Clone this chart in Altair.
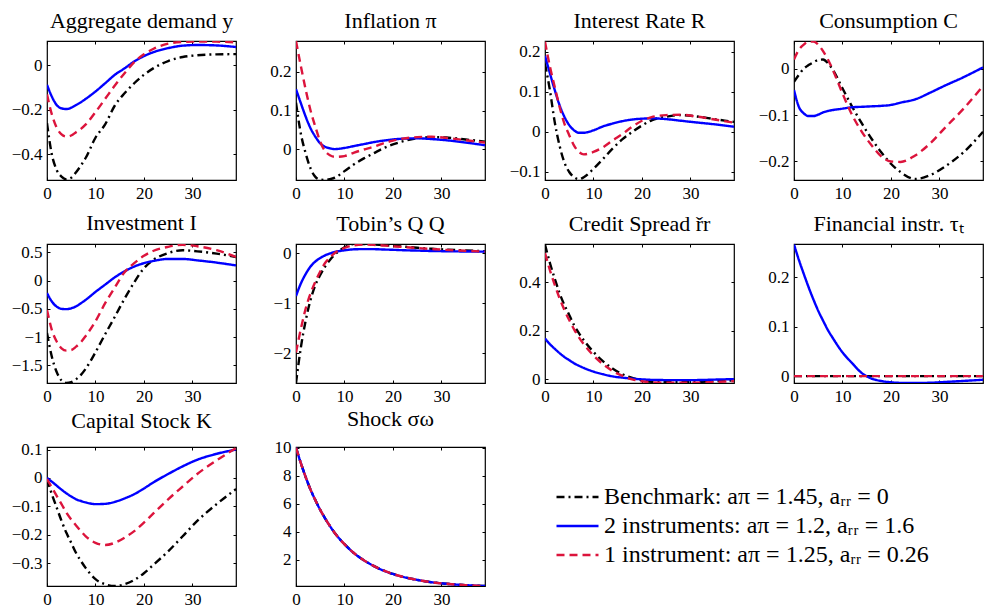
import altair as alt
import pandas as pd

# ---------------- data ----------------
T = [0, 1, 2, 3, 4, 5, 6, 7, 8, 10, 12, 14, 16, 18, 20, 22, 25, 28, 31, 35, 39]

SERIES = [
    "Benchmark: aπ = 1.45, aᵣᵣ = 0",
    "2 instruments: aπ = 1.2, aᵣᵣ = 1.6",
    "1 instrument: aπ = 1.25, aᵣᵣ = 0.26",
]
COLORS = ["#000000", "#0000FF", "#DC143C"]
DASHES = [[8, 4, 2, 4], [1, 0], [8, 5]]

# Aggregate demand y
y_bench = [-0.26, -0.40, -0.47, -0.50, -0.512, -0.505, -0.48, -0.45, -0.415, -0.325, -0.265, -0.18, -0.125, -0.08, -0.042, -0.012, 0.02, 0.038, 0.046, 0.05, 0.051]
y_two = [-0.087, -0.14, -0.178, -0.193, -0.196, -0.19, -0.178, -0.165, -0.15, -0.117, -0.08, -0.042, -0.013, 0.018, 0.042, 0.06, 0.078, 0.089, 0.092, 0.09, 0.083]
y_one = [-0.13, -0.22, -0.28, -0.31, -0.32, -0.315, -0.30, -0.285, -0.265, -0.21, -0.15, -0.09, -0.035, 0.015, 0.05, 0.075, 0.098, 0.106, 0.108, 0.107, 0.104]

# Inflation pi
pi_bench = [0.12, 0.04, -0.011, -0.05, -0.072, -0.079, -0.08, -0.078, -0.074, -0.057, -0.039, -0.024, -0.011, 0.002, 0.012, 0.02, 0.028, 0.031, 0.03, 0.025, 0.019]
pi_two = [0.155, 0.119, 0.084, 0.054, 0.032, 0.015, 0.006, 0.002, 0.0, 0.003, 0.008, 0.013, 0.018, 0.022, 0.025, 0.027, 0.028, 0.026, 0.023, 0.017, 0.01]
pi_one = [0.28, 0.215, 0.154, 0.10, 0.058, 0.019, -0.005, -0.016, -0.02, -0.018, -0.009, -0.001, 0.006, 0.015, 0.022, 0.027, 0.031, 0.032, 0.029, 0.023, 0.017]

# Interest rate R
r_bench = [0.17, 0.105, 0.025, -0.034, -0.076, -0.1, -0.113, -0.118, -0.113, -0.092, -0.067, -0.041, -0.018, 0.0, 0.016, 0.029, 0.038, 0.042, 0.039, 0.032, 0.025]
r_two = [0.19, 0.147, 0.105, 0.067, 0.038, 0.017, 0.004, -0.002, -0.002, 0.004, 0.014, 0.021, 0.027, 0.031, 0.033, 0.034, 0.032, 0.028, 0.024, 0.019, 0.013]
r_one = [0.225, 0.164, 0.113, 0.063, 0.021, -0.008, -0.034, -0.05, -0.056, -0.05, -0.038, -0.021, -0.005, 0.013, 0.028, 0.037, 0.042, 0.043, 0.039, 0.031, 0.023]

# Consumption C
c_bench = [-0.028, -0.013, 0.0, 0.008, 0.014, 0.019, 0.02, 0.012, -0.002, -0.042, -0.082, -0.118, -0.151, -0.18, -0.205, -0.223, -0.238, -0.23, -0.212, -0.18, -0.136]
c_two = [-0.046, -0.082, -0.096, -0.102, -0.102, -0.099, -0.094, -0.091, -0.089, -0.086, -0.083, -0.082, -0.081, -0.08, -0.078, -0.073, -0.066, -0.052, -0.037, -0.018, 0.003]
c_one = [0.02, 0.041, 0.052, 0.059, 0.059, 0.052, 0.038, 0.02, -0.002, -0.053, -0.1, -0.136, -0.165, -0.189, -0.2, -0.201, -0.187, -0.162, -0.129, -0.086, -0.037]

# Investment I
i_bench = [-0.93, -1.35, -1.62, -1.77, -1.815, -1.8, -1.75, -1.67, -1.56, -1.27, -0.95, -0.64, -0.32, -0.03, 0.22, 0.37, 0.49, 0.54, 0.52, 0.48, 0.42]
i_two = [-0.22, -0.37, -0.46, -0.5, -0.505, -0.49, -0.455, -0.40, -0.34, -0.2, -0.07, 0.06, 0.165, 0.25, 0.31, 0.35, 0.385, 0.385, 0.36, 0.32, 0.27]
i_one = [-0.52, -0.875, -1.08, -1.2, -1.24, -1.23, -1.17, -1.09, -0.98, -0.72, -0.4, -0.12, 0.15, 0.31, 0.44, 0.53, 0.6, 0.635, 0.61, 0.54, 0.42]

# Tobin's Q
q_bench = [-2.6, -1.89, -1.35, -0.94, -0.64, -0.44, -0.27, -0.14, -0.034, 0.114, 0.178, 0.18, 0.172, 0.16, 0.145, 0.13, 0.105, 0.085, 0.068, 0.05, 0.034]
q_two = [-0.86, -0.61, -0.42, -0.27, -0.17, -0.1, -0.047, -0.01, 0.02, 0.054, 0.074, 0.078, 0.077, 0.07, 0.064, 0.056, 0.048, 0.04, 0.035, 0.03, 0.027]
q_one = [-1.99, -1.52, -1.11, -0.81, -0.57, -0.37, -0.2, -0.09, 0.0, 0.1, 0.155, 0.168, 0.162, 0.15, 0.135, 0.12, 0.1, 0.08, 0.062, 0.045, 0.027]

# Credit spread
s_bench = [0.555, 0.48, 0.415, 0.355, 0.306, 0.265, 0.223, 0.19, 0.161, 0.113, 0.074, 0.044, 0.021, 0.006, -0.004, -0.01, -0.012, -0.012, -0.011, -0.008, -0.004]
s_two = [0.168, 0.145, 0.126, 0.108, 0.092, 0.079, 0.066, 0.056, 0.047, 0.032, 0.021, 0.012, 0.007, 0.003, 0.0, -0.002, -0.003, -0.003, -0.003, -0.001, 0.001]
s_one = [0.52, 0.45, 0.39, 0.334, 0.286, 0.244, 0.206, 0.173, 0.145, 0.098, 0.062, 0.034, 0.014, 0.0, -0.008, -0.012, -0.014, -0.014, -0.014, -0.011, -0.007]

# Financial instrument tau
tau_bench = [0.0] * 21
tau_two = [0.266, 0.235, 0.207, 0.18, 0.155, 0.132, 0.112, 0.093, 0.077, 0.048, 0.026, 0.006, -0.005, -0.01, -0.0125, -0.0137, -0.014, -0.0135, -0.012, -0.0098, -0.0075]
tau_one = [0.0] * 21

# Capital stock K
k_bench = [-0.004, -0.057, -0.104, -0.151, -0.193, -0.228, -0.264, -0.292, -0.317, -0.356, -0.374, -0.38, -0.374, -0.359, -0.335, -0.305, -0.258, -0.205, -0.151, -0.092, -0.039]
k_two = [0.0, -0.013, -0.027, -0.041, -0.054, -0.065, -0.075, -0.081, -0.086, -0.092, -0.091, -0.084, -0.072, -0.057, -0.037, -0.015, 0.014, 0.041, 0.064, 0.085, 0.1]
k_one = [-0.004, -0.033, -0.063, -0.092, -0.122, -0.146, -0.167, -0.187, -0.205, -0.228, -0.236, -0.228, -0.21, -0.187, -0.157, -0.124, -0.075, -0.03, 0.014, 0.062, 0.105]

# Shock sigma_omega
sh_bench = [10, 8.9, 7.9, 7.0, 6.25, 5.55, 4.95, 4.4, 3.9, 3.1, 2.45, 1.95, 1.55, 1.22, 0.97, 0.77, 0.55, 0.38, 0.27, 0.17, 0.11]
sh_two = list(sh_bench)
sh_one = list(sh_bench)

TITLES = ["Aggregate demand y", "Inflation π", "Interest Rate R", "Consumption C",
          "Investment I", "Tobin’s Q Q", "Credit Spread řr", "Financial instr. τₜ",
          "Capital Stock K", "Shock σω"]
DATA = [(y_bench, y_two, y_one), (pi_bench, pi_two, pi_one), (r_bench, r_two, r_one),
        (c_bench, c_two, c_one), (i_bench, i_two, i_one), (q_bench, q_two, q_one),
        (s_bench, s_two, s_one), (tau_bench, tau_two, tau_one), (k_bench, k_two, k_one),
        (sh_bench, sh_two, sh_one)]
DOMAINS = [[-0.515, 0.11], [-0.08, 0.28], [-0.12, 0.227], [-0.24, 0.06],
           [-1.815, 0.65], [-2.6, 0.18], [-0.015, 0.557], [-0.014, 0.267],
           [-0.38, 0.109], [0.11, 10.05]]
YTICKS = [[-0.4, -0.2, 0], [0, 0.1, 0.2], [-0.1, 0, 0.1, 0.2], [-0.2, -0.1, 0],
          [-1.5, -1, -0.5, 0, 0.5], [-2, -1, 0], [0, 0.2, 0.4], [0, 0.1, 0.2],
          [-0.3, -0.2, -0.1, 0, 0.1], [2, 4, 6, 8, 10]]
XTICKS = [0, 10, 20, 30]

FONT = "Liberation Serif"
W, H = 189, 139

color_scale = alt.Scale(domain=SERIES, range=COLORS)
dash_scale = alt.Scale(domain=SERIES, range=DASHES)
LEG = alt.Legend(title=None, orient="none", legendX=508, legendY=444,
                 symbolType="stroke", symbolSize=1764, symbolStrokeWidth=2.4,
                 clipHeight=24, rowPadding=5, labelFont=FONT, labelFontSize=24,
                 labelColor="black", labelOffset=4, labelLimit=700)


def panel(title, series_vals, domain, yticks):
    rows = []
    for name, vals in zip(SERIES, series_vals):
        for t, v in zip(T, vals):
            rows.append({"t": t, "v": v, "s": name})
    df = pd.DataFrame(rows)
    base = alt.Chart(df)
    xsc = alt.Scale(domain=[0, 39], nice=False, zero=False)
    ysc = alt.Scale(domain=domain, nice=False, zero=False)
    common = dict(offset=-3, tickSize=3, title=None, minExtent=0, maxExtent=60)
    xax = alt.Axis(values=XTICKS, format="d", orient="bottom", labelPadding=5, **common)
    yax = alt.Axis(values=yticks, format="~r", orient="left", labelPadding=5, **common)
    xax2 = alt.Axis(values=XTICKS, orient="top", labels=False, **common)
    yax2 = alt.Axis(values=yticks, orient="right", labels=False, **common)
    lines = []
    for name in SERIES:
        lines.append(
            base.transform_filter(alt.datum.s == name)
            .mark_line(strokeWidth=2.4, interpolate="monotone", clip=True)
            .encode(
                x=alt.X("t:Q", scale=xsc, axis=xax),
                y=alt.Y("v:Q", scale=ysc, axis=yax),
                color=alt.Color("s:N", scale=color_scale, legend=LEG),
                strokeDash=alt.StrokeDash("s:N", scale=dash_scale, legend=LEG),
            )
        )
    frame = base.mark_point(opacity=0, size=1).encode(
        x=alt.X("t:Q", scale=xsc, axis=xax2),
        y=alt.Y("v:Q", scale=ysc, axis=yax2),
    )
    return (
        alt.layer(alt.layer(*lines), frame)
        .resolve_axis(x="independent", y="independent")
        .properties(width=W, height=H,
                    title=alt.TitleParams(title, font=FONT, fontSize=22, fontWeight="normal",
                                          color="black", baseline="alphabetic", offset=-9))
    )


panels = [panel(TITLES[i], DATA[i], DOMAINS[i], YTICKS[i]) for i in range(10)]

chart = (
    alt.concat(*panels, columns=4, spacing={"row": 64, "column": 60}, bounds="flush")
    .resolve_scale(x="independent", y="independent", color="shared", strokeDash="shared")
    .properties(padding={"left": 10, "top": 8, "right": 4, "bottom": 0}, background="white")
    .configure_view(stroke="black", strokeWidth=1.2)
    .configure_axis(labelFont=FONT, labelFontSize=17, labelColor="black", tickColor="black",
                    tickWidth=1, domain=False, grid=False, labelFlush=False, labelOverlap=False)
)

chart.save("out.html", embed_options={"renderer": "svg", "actions": False})
